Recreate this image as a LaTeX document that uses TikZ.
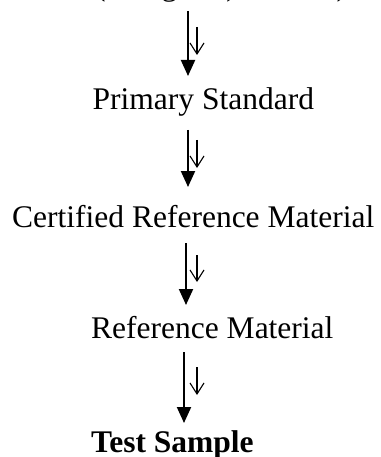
\documentclass[tikz,border=0pt]{standalone}
\usepackage{fontspec}
\setmainfont{Liberation Serif}
\usetikzlibrary{arrows.meta}

\begin{document}
\begin{tikzpicture}[x=1pt, y=-1pt,
		every node/.style={inner sep=0pt, anchor=base west, font=\fontsize{31.5}{36}\selectfont},
		bigarrow/.style={line width=2pt, -{Triangle[length=16pt, width=14pt]}},
		smallarrow/.style={line width=1.1pt, -{Straight Barb[length=11pt, width=14pt]}}]
			\clip (0,0) rectangle (380,457);
			
			\node (si) at (95,-4) {(Kilogram) SI Unit)};
			\node (ps) at (92.5,110) {Primary Standard};
			\node (crm) at (12,227) {Certified Reference Material};
			\node (rm) at (91,338) {Reference Material};
			\node (ts) at (91,452) {\bfseries Test Sample};
			
			% main arrow: x, start, tip -- small arrow: start, tip
			\foreach \i/\x/\ya/\yb/\sa/\sb in {1/188/11/76/27/55, 2/188/130/187/140/168, 3/186/243/305/255/282, 4/184/352/423/367/395}{
				\coordinate (from\i) at (\x,\ya);
				\coordinate (to\i) at (\x,\yb);
				\coordinate (sfrom\i) at (197,\sa);
				\coordinate (sto\i) at (197,\sb);
				\draw [bigarrow] (from\i) -- (to\i);
				\draw [smallarrow] (sfrom\i) -- (sto\i);
			}
		\end{tikzpicture}
\end{document}
